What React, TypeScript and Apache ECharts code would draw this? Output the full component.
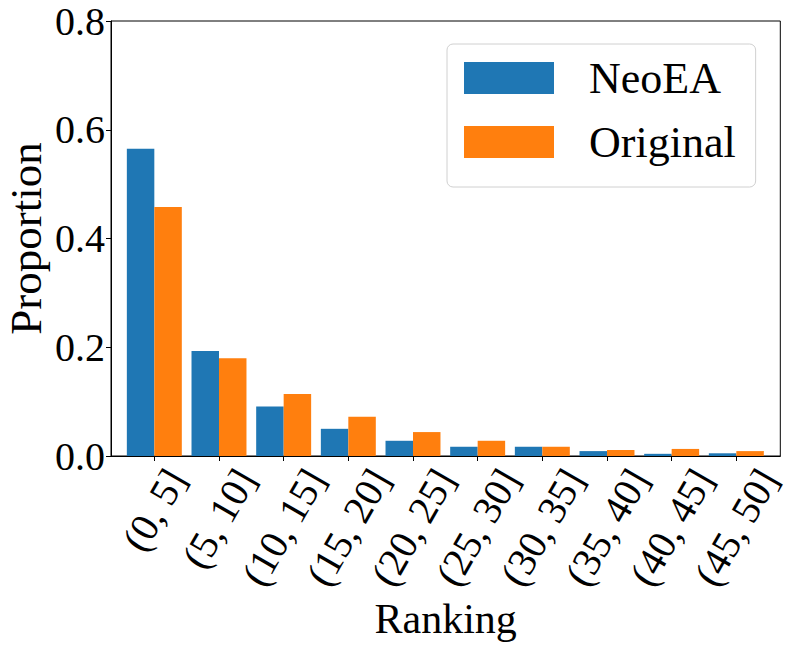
import React, { useEffect, useRef } from "react";
import * as echarts from "echarts";

const categories = ["(0, 5]", "(5, 10]", "(10, 15]", "(15, 20]", "(20, 25]", "(25, 30]", "(30, 35]", "(35, 40]", "(40, 45]", "(45, 50]"];
const neoEA = [0.565, 0.193, 0.091, 0.050, 0.028, 0.017, 0.017, 0.009, 0.004, 0.005];
const original = [0.458, 0.180, 0.114, 0.072, 0.044, 0.028, 0.017, 0.011, 0.013, 0.009];

const FONT = "Liberation Serif";
const TICK_FS = 40;

export default function App() {
  const ref = useRef<HTMLDivElement>(null);
  useEffect(() => {
    if (!ref.current) return;
    const chart = echarts.init(ref.current, undefined, { renderer: "svg" });
    const idx = categories.map((_, i) => i);
    chart.setOption({
      animation: false,
      backgroundColor: "#fff",
      grid: {
        left: 111,
        top: 21,
        right: 10.7,
        bottom: 189,
        show: true,
        borderColor: "#000",
        borderWidth: 1,
        containLabel: false,
        outerBoundsMode: "none",
      },
      legend: {
        orient: "vertical",
        left: 447,
        top: 44,
        itemWidth: 90,
        itemHeight: 32,
        itemGap: 20,
        icon: "rect",
        padding: [12, 20, 23, 17],
        borderColor: "#d0d0d0",
        borderWidth: 1,
        borderRadius: 6,
        backgroundColor: "rgba(255,255,255,0.8)",
        textStyle: {
          fontFamily: FONT,
          fontSize: 44,
          color: "#000",
          padding: [0, 0, 0, 30],
        },
        data: ["NeoEA", "Original"],
      },
      xAxis: {
        type: "value",
        min: -0.67,
        max: 9.68,
        splitLine: { show: false },
        axisLine: { show: true, onZero: false, lineStyle: { color: "#000", width: 1 } },
        axisTick: { show: true, customValues: idx, length: 5, inside: false, lineStyle: { color: "#000" } },
        axisLabel: { show: false },
        name: "Ranking",
        nameLocation: "middle",
        nameGap: 142,
        nameMoveOverlap: false,
        nameTextStyle: { fontFamily: FONT, fontSize: 42, color: "#000" },
      },
      yAxis: {
        type: "value",
        min: 0,
        max: 0.8,
        interval: 0.2,
        splitLine: { show: false },
        axisLine: { show: true, onZero: false, lineStyle: { color: "#000", width: 1 } },
        axisTick: { show: true, length: 5, inside: false, lineStyle: { color: "#000" } },
        axisLabel: {
          fontFamily: FONT,
          fontSize: TICK_FS,
          color: "#000",
          margin: 6,
          formatter: (v: number) => v.toFixed(1),
        },
        name: "Proportion",
        nameLocation: "middle",
        nameRotate: 90,
        nameGap: 63,
        nameMoveOverlap: false,
        nameTextStyle: { fontFamily: FONT, fontSize: 45, color: "#000" },
      },
      series: [
        {
          name: "NeoEA",
          type: "bar",
          data: neoEA.map((v, i) => [i, v]),
          barWidth: "42.5%",
          barGap: "0%",
          itemStyle: { color: "#1f77b4" },
        },
        {
          name: "Original",
          type: "bar",
          data: original.map((v, i) => [i, v]),
          barWidth: "42.5%",
          barGap: "0%",
          itemStyle: { color: "#ff7f0e" },
        },
      ],
    });

    const canvas = document.createElement("canvas");
    const ctx = canvas.getContext("2d")!;
    ctx.font = `${TICK_FS}px 'Liberation Serif'`;
    const graphics = categories.map((label, i) => {
      const [px, py] = chart.convertToPixel({ gridIndex: 0 }, [i, 0]) as number[];
      const w = ctx.measureText(label).width;
      return {
        type: "text",
        x: px,
        y: py + 16.5 + 0.433 * w,
        rotation: Math.PI / 3,
        style: {
          text: label,
          fontFamily: FONT,
          fontSize: TICK_FS,
          fill: "#000",
          align: "center",
          verticalAlign: "middle",
        },
      };
    });
    chart.setOption({ graphic: graphics });

    return () => chart.dispose();
  }, []);
  return (
    <div
      ref={ref}
      style={{ position: "fixed", left: 0, top: 0, width: 791, height: 645 }}
    />
  );
}
